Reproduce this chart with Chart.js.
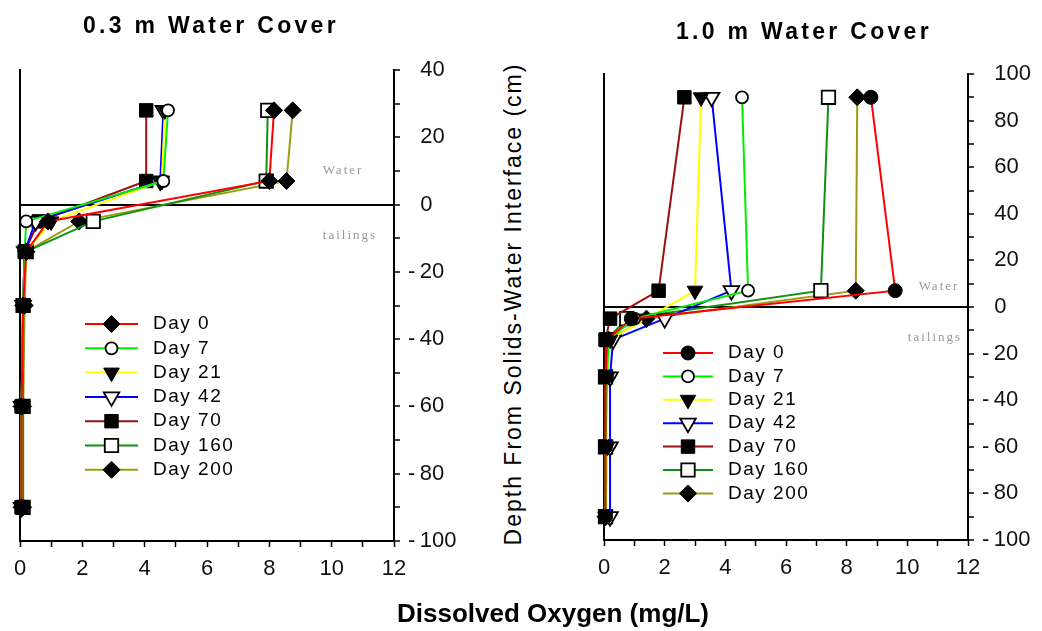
<!DOCTYPE html>
<html>
<head>
<meta charset="utf-8">
<script src="https://cdn.jsdelivr.net/npm/chart.js@4.4.0/dist/chart.umd.min.js"></script>
<style>
  html, body { margin: 0; padding: 0; background: #fff; }
  body { width: 1042px; height: 631px; position: relative; overflow: hidden; font-family: 'Liberation Sans', Arial, sans-serif; color: #000; }
  canvas { position: absolute; top: 0; }
  #left { left: 0; }
  #right { left: 540px; }
  .title { position: absolute; font-weight: bold; font-size: 23px; letter-spacing: 3.3px; white-space: nowrap; transform: translate(-50%, -50%); }
  .note { position: absolute; font-family: 'Liberation Serif', serif; font-size: 13px; color: #999; letter-spacing: 2px; white-space: nowrap; transform: translate(-50%, -50%); }
  #ylabel { position: absolute; left: 513px; top: 304px; font-size: 23px; letter-spacing: 2px; white-space: nowrap; transform: translate(-50%, -50%) rotate(-90deg); }
  #xlabel { position: absolute; left: 553px; top: 613px; font-size: 26px; font-weight: bold; white-space: nowrap; transform: translate(-50%, -50%); }
</style>
</head>
<body>
<canvas id="left" width="480" height="600"></canvas>
<canvas id="right" width="500" height="600"></canvas>

<div class="title" style="left:211px; top:25px;">0.3 m Water Cover</div>
<div class="title" style="left:804px; top:31px;">1.0 m Water Cover</div>
<div class="note" style="left:343px; top:170px;">Water</div>
<div class="note" style="left:350px; top:235px;">tailings</div>
<div class="note" style="left:939px; top:286px;">Water</div>
<div class="note" style="left:935px; top:337px;">tailings</div>
<div id="ylabel">Depth From Solids-Water Interface (cm)</div>
<div id="xlabel">Dissolved Oxygen (mg/L)</div>

<script>
const dayLabels = ['Day 0', 'Day 7', 'Day 21', 'Day 42', 'Day 70', 'Day 160', 'Day 200'];

// 0.3 m water cover: depth (cm) and dissolved oxygen (mg/L)
const depth03 = [28, 7, -5, -14, -30, -60, -90];
const do03Day0 = [8.15, 8.0, 0.9, 0.2, 0.1, 0.05, 0.05];
const do03Day7 = [4.75, 4.6, 0.2, 0.15, 0.1, 0.05, 0.05];
const do03Day21 = [4.65, 4.55, 1.0, 0.2, 0.1, 0.05, 0.05];
const do03Day42 = [4.6, 4.5, 0.5, 0.15, 0.1, 0.05, 0.05];
const do03Day70 = [4.05, 4.05, 0.6, 0.15, 0.1, 0.05, 0.05];
const do03Day160 = [7.95, 7.9, 2.35, 0.2, 0.1, 0.1, 0.1];
const do03Day200 = [8.75, 8.55, 1.9, 0.2, 0.15, 0.1, 0.1];

// 1.0 m water cover
const depth10 = [90, 7, -5, -14, -30, -60, -90];
const do10Day0 = [8.8, 9.6, 0.9, 0.1, 0.05, 0.05, 0.05];
const do10Day7 = [4.55, 4.75, 1.0, 0.15, 0.1, 0.05, 0.05];
const do10Day21 = [3.2, 3.0, 1.4, 0.2, 0.1, 0.1, 0.05];
const do10Day42 = [3.55, 4.2, 2.0, 0.3, 0.2, 0.2, 0.2];
const do10Day70 = [2.65, 1.8, 0.2, 0.05, 0.05, 0.05, 0.05];
const do10Day160 = [7.4, 7.15, 0.75, 0.1, 0.05, 0.05, 0.05];
const do10Day200 = [8.35, 8.3, 1.4, 0.15, 0.1, 0.1, 0.05];

const FONT = "'Liberation Sans', Arial, sans-serif";
Chart.defaults.font.family = FONT;

const lineColors = ['#ff0000', '#00ee00', '#ffff00', '#0000ff', '#991111', '#119111', '#9c9c14'];
const markers = [
  { pointStyle: 'rectRot', radius: 8.5, filled: true },
  { pointStyle: 'circle', radius: 6, filled: false },
  { pointStyle: 'triangle', radius: 9, filled: true, rotation: 180 },
  { pointStyle: 'triangle', radius: 9, filled: false, rotation: 180 },
  { pointStyle: 'rect', radius: 9.5, filled: true },
  { pointStyle: 'rect', radius: 9.5, filled: false },
  { pointStyle: 'rectRot', radius: 8.5, filled: true },
];

const buildDatasets = (depths, series, firstMarker) =>
  series.map((vals, i) => {
    const m = i === 0 && firstMarker ? firstMarker : markers[i];
    return {
      label: dayLabels[i],
      data: vals.map((v, k) => ({ x: v, y: depths[k] })),
      showLine: true,
      borderColor: lineColors[i],
      backgroundColor: lineColors[i],
      borderWidth: 2,
      pointStyle: m.pointStyle,
      pointRadius: m.radius,
      pointRotation: m.rotation || 0,
      pointBackgroundColor: m.filled ? '#000' : '#fff',
      pointBorderColor: '#000',
      pointBorderWidth: m.filled ? 1 : 1.8,
      clip: false,
    };
  });

// legend drawn inside the plot, line + marker + text
const insideLegend = {
  id: 'insideLegend',
  afterDatasetsDraw(chart, args, opts) {
    const { ctx, chartArea } = chart;
    ctx.save();
    chart.data.datasets.forEach((ds, i) => {
      const y = chartArea.top + opts.top + i * opts.gap;
      const x0 = chartArea.left + opts.left;
      ctx.strokeStyle = ds.borderColor;
      ctx.lineWidth = 2;
      ctx.beginPath();
      ctx.moveTo(x0, y);
      ctx.lineTo(x0 + opts.lineLength, y);
      ctx.stroke();
      ctx.fillStyle = ds.pointBackgroundColor;
      ctx.strokeStyle = ds.pointBorderColor;
      ctx.lineWidth = ds.pointBorderWidth;
      Chart.helpers.drawPoint(ctx, {
        pointStyle: ds.pointStyle,
        radius: ds.pointRadius,
        rotation: ds.pointRotation,
        borderWidth: ds.pointBorderWidth,
      }, x0 + opts.lineLength / 2, y);
      ctx.fillStyle = '#000';
      ctx.font = '19px ' + FONT;
      ctx.letterSpacing = '1.5px';
      ctx.textBaseline = 'middle';
      ctx.textAlign = 'left';
      ctx.fillText(ds.label, x0 + opts.lineLength + opts.textGap, y);
    });
    ctx.restore();
  },
};

const fmtDepth = (v) => {
  if (v % 20 !== 0) return '';
  return v < 0 ? '-\u2009' + Math.abs(v) : '\u2007' + v;
};

const makeOptions = (yMin, yMax, padding, legendOpts) => ({
  responsive: false,
  animation: false,
  layout: { padding },
  plugins: {
    legend: { display: false },
    tooltip: { enabled: false },
    insideLegend: legendOpts,
  },
  scales: {
    x: {
      type: 'linear',
      min: 0,
      max: 12,
      border: { display: true, color: '#000', width: 2 },
      grid: { drawOnChartArea: false, drawTicks: true, tickLength: 6, tickColor: '#000', tickWidth: 1.5 },
      ticks: {
        stepSize: 1,
        autoSkip: false,
        maxRotation: 0,
        padding: 9,
        color: '#111',
        font: { size: 22 },
        callback: (v) => (v % 2 === 0 ? String(v) : ''),
      },
      afterFit: (s) => { s.height = 45; },
    },
    y: {
      type: 'linear',
      position: 'right',
      min: yMin,
      max: yMax,
      border: { display: true, color: '#000', width: 2 },
      grid: {
        color: (c) => (c.tick && c.tick.value === 0 ? '#000' : 'rgba(0,0,0,0)'),
        lineWidth: 2,
        tickLength: 6,
        tickColor: '#000',
        tickWidth: 1.5,
      },
      ticks: {
        stepSize: 10,
        autoSkip: false,
        padding: 8,
        color: '#111',
        font: { size: 22 },
        callback: fmtDepth,
      },
      afterFit: (s) => { s.width = 72; },
    },
    yl: {
      type: 'linear',
      position: 'left',
      min: yMin,
      max: yMax,
      border: { display: true, color: '#000', width: 2 },
      grid: { display: false },
      ticks: { display: false },
      afterFit: (s) => { s.width = 0; },
    },
  },
});

new Chart(document.getElementById('left'), {
  type: 'scatter',
  data: {
    datasets: buildDatasets(depth03, [do03Day0, do03Day7, do03Day21, do03Day42, do03Day70, do03Day160, do03Day200]),
  },
  options: makeOptions(-100, 40, { left: 20, top: 70, right: 14, bottom: 14 },
    { left: 65, top: 254, gap: 24.3, lineLength: 53, textGap: 15 }),
  plugins: [insideLegend],
});

new Chart(document.getElementById('right'), {
  type: 'scatter',
  data: {
    datasets: buildDatasets(depth10, [do10Day0, do10Day7, do10Day21, do10Day42, do10Day70, do10Day160, do10Day200],
      { pointStyle: 'circle', radius: 7, filled: true }),
  },
  options: makeOptions(-100, 100, { left: 64, top: 74, right: 0, bottom: 15 },
    { left: 59, top: 279, gap: 23.4, lineLength: 50, textGap: 15 }),
  plugins: [insideLegend],
});
</script>
</body>
</html>
